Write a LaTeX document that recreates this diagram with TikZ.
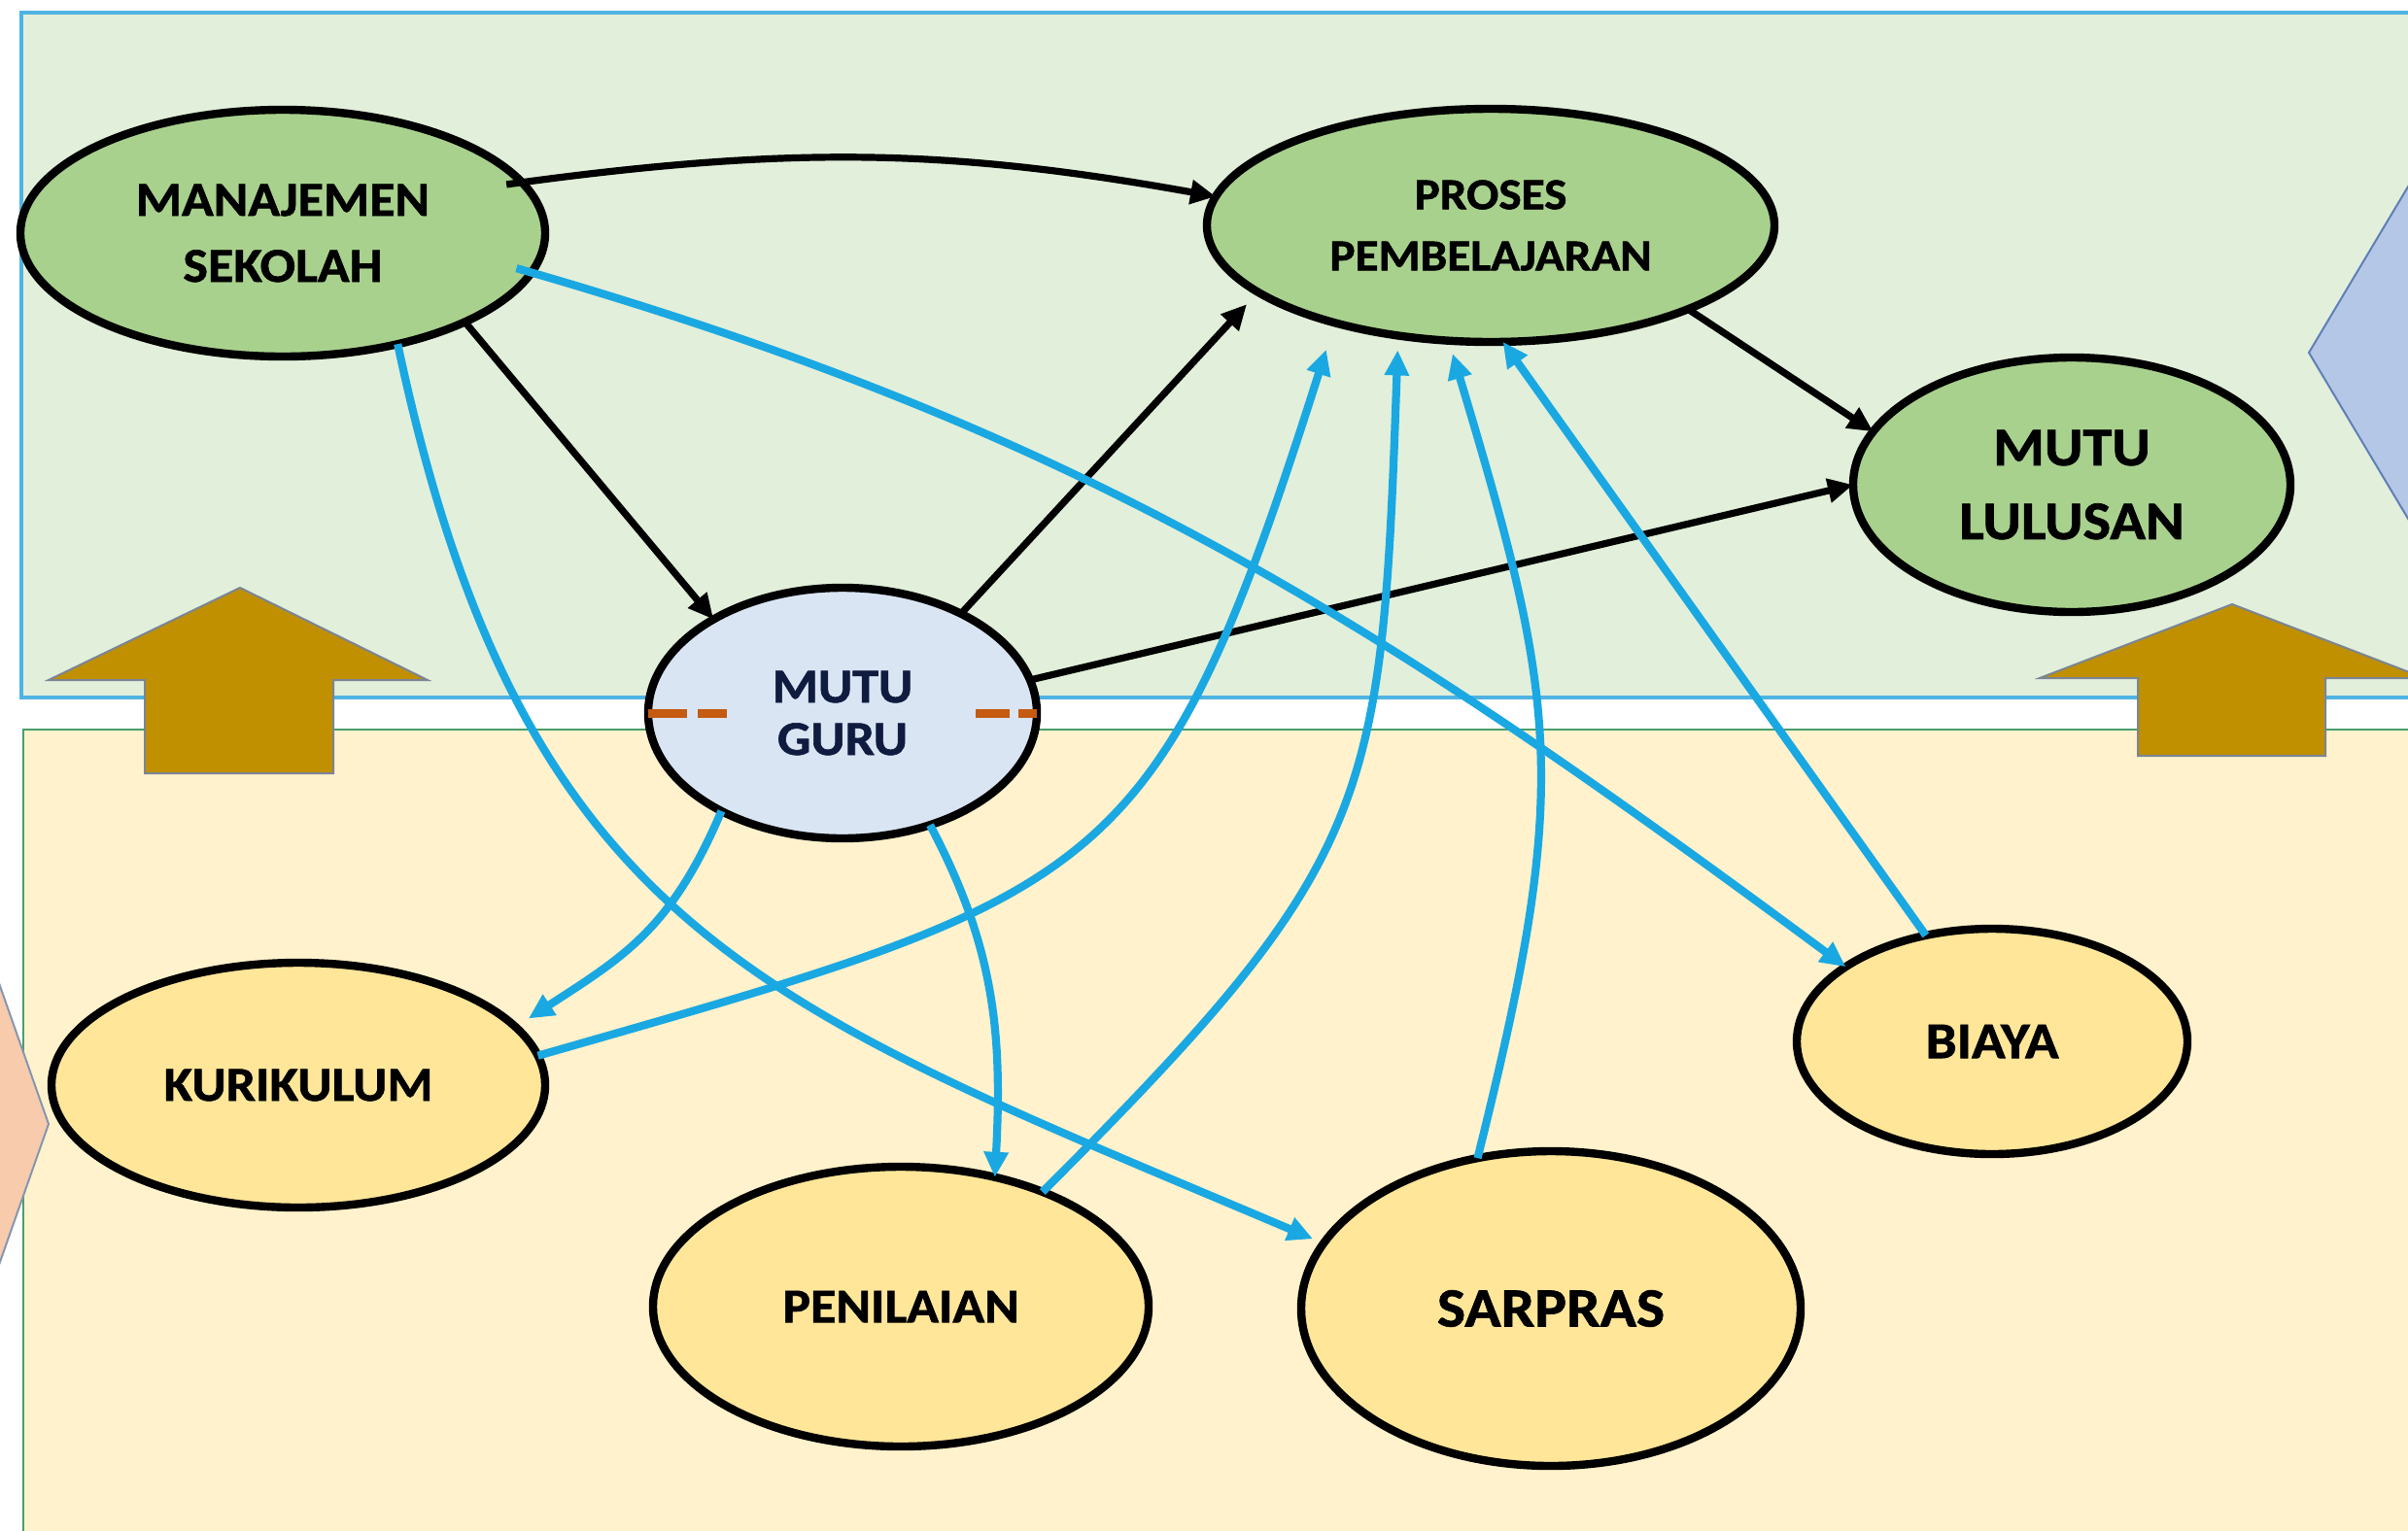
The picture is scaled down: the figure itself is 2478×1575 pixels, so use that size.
\documentclass[tikz,border=0pt]{standalone}
\usepackage{fontspec}
\setmainfont{Carlito}[FakeStretch=1.08, BoldFeatures={FakeBold=1.2}]
\usetikzlibrary{shapes.geometric,arrows.meta}
\definecolor{topfill}{HTML}{E2EFDA}
\definecolor{topline}{HTML}{4FB3E3}
\definecolor{botfill}{HTML}{FFF2CC}
\definecolor{botline}{HTML}{4A9E6B}
\definecolor{ellgreen}{HTML}{A9D18E}
\definecolor{ellyellow}{HTML}{FFE699}
\definecolor{mgfill}{HTML}{DAE5F4}
\definecolor{navytext}{HTML}{0F1C3F}
\definecolor{lineblue}{HTML}{1AA8E2}
\definecolor{gold}{HTML}{C09000}
\definecolor{goldline}{HTML}{7A8595}
\definecolor{diaR}{HTML}{B4C7E7}
\definecolor{diaRline}{HTML}{5F7FB6}
\definecolor{diaL}{HTML}{F8CBAD}
\definecolor{diaLline}{HTML}{8497B0}
\definecolor{orangedash}{HTML}{C55A11}
\begin{document}
\begin{tikzpicture}[x=0.5pt,y=0.5pt,
  ell/.style={ellipse, draw=black, line width=4.2pt, inner sep=0pt, outer sep=0pt, align=center},
  gell/.style={ell, fill=ellgreen},
  yell/.style={ell, fill=ellyellow},
  blk/.style={draw=black, line width=3.6pt, -{Triangle[length=13pt,width=12pt]}},
  blu/.style={draw=lineblue, line width=4.1pt, -{Triangle[length=13pt,width=12pt]}},
  goldarrow/.style={fill=gold, draw=goldline, line width=1pt, line join=miter},
  odash/.style={draw=orangedash, line width=4.5pt}
]
\useasboundingbox (0,0) rectangle (2478,-1575);
\clip (0,0) rectangle (2478,-1575);
\fill[white] (0,0) rectangle (2478,-1575);
% panels
\path[draw=topline, fill=topfill, line width=1.6pt] (22,-13) rectangle (2540,-718);
\path[draw=botline, fill=botfill, line width=1.3pt] (24,-751) rectangle (2540,-1640);
% big gold arrows
\path[goldarrow] (247,-605) -- (440,-700) -- (343,-700) -- (343,-796) -- (149,-796) -- (149,-700) -- (50,-700) -- cycle;
\path[goldarrow] (2297,-622) -- (2495,-698) -- (2393,-698) -- (2393,-778) -- (2200,-778) -- (2200,-698) -- (2099,-698) -- cycle;
% side diamonds
\path[fill=diaR, draw=diaRline, line width=1pt] (2376,-363) -- (2576,-28) -- (2776,-363) -- (2576,-698) -- cycle;
\path[fill=diaL, draw=diaLline, line width=1pt] (50,-1157) -- (-50,-873) -- (-150,-1157) -- (-50,-1441) -- cycle;
% nodes
\node[gell, minimum width=270pt, minimum height=127pt, font=\bfseries\fontsize{25}{34}\selectfont] (ms) at (291,-240) {MANAJEMEN\\SEKOLAH};
\node[gell, minimum width=292pt, minimum height=120pt, font=\bfseries\fontsize{22.8}{31.5}\selectfont] (pp) at (1534,-232) {PROSES\\PEMBELAJARAN};
\node[gell, minimum width=225pt, minimum height=131pt, font=\bfseries\fontsize{28}{38}\selectfont] (ml) at (2132,-499) {MUTU\\LULUSAN};
\node[ell, fill=mgfill, text=navytext, minimum width=200pt, minimum height=129pt, font=\bfseries\fontsize{25}{27}\selectfont] (mg) at (867,-734) {MUTU\\GURU};
\node[yell, minimum width=254pt, minimum height=126pt, font=\bfseries\fontsize{25}{29}\selectfont] (kur) at (307,-1117) {KURIKULUM};
\node[yell, minimum width=255pt, minimum height=144pt, font=\bfseries\fontsize{25}{29}\selectfont] (pen) at (927,-1345) {PENILAIAN};
\node[yell, minimum width=257pt, minimum height=162pt, font=\bfseries\fontsize{28.5}{33}\selectfont] (sar) at (1596,-1347) {SARPRAS};
\node[yell, minimum width=201pt, minimum height=116pt, font=\bfseries\fontsize{26.5}{31}\selectfont] (bia) at (2050,-1072) {BIAYA};
% orange dashes in MUTU GURU
\draw[odash, dash pattern=on 20pt off 5.5pt on 15pt off 60pt] (mg.west) -- +(81,0);
\draw[odash, dash pattern=on 9.5pt off 4.5pt on 17.5pt off 60pt] (mg.east) -- +(-63,0);
% black connectors
\draw[blk, shorten <=-8pt] (ms.12) to[bend left=9] (pp.174);
\draw[blk] (ms.-26) -- (mg.144);
\draw[blk, shorten >=8.5pt] (mg.40) -- (pp.196);
\draw[blk] (pp.-23) -- (ml.165);
\draw[blk] (mg.10) -- (ml.180);
% blue connectors
\draw[blu, shorten <=-8pt] (ms.-9) to[out=-16, in=143.5] (bia.153);
\draw[blu, shorten >=6pt] (ms.-44.5) to[out=-78, in=157, looseness=1.2] (sar.164);
\draw[blu, shorten >=8pt] (mg.-141.6) to[out=-113, in=33, looseness=1.1] (kur.15);
\draw[blu] (mg.-52) to[out=-62, in=87] (pen.54);
\draw[blu, shorten >=14.5pt] (kur.7.7) to[out=16, in=-107.6, looseness=1.4] (pp.212.6);
\draw[blu, shorten >=7.5pt] (pen.39.2) to[out=45, in=-92, looseness=1.3] (pp.230.8);
\draw[blu, shorten >=7pt] (sar.116.3) to[out=76, in=-73.3, looseness=1.2] (pp.250.6);
\draw[blu] (bia.122) -- (pp.-84.3);
\end{tikzpicture}
\end{document}
